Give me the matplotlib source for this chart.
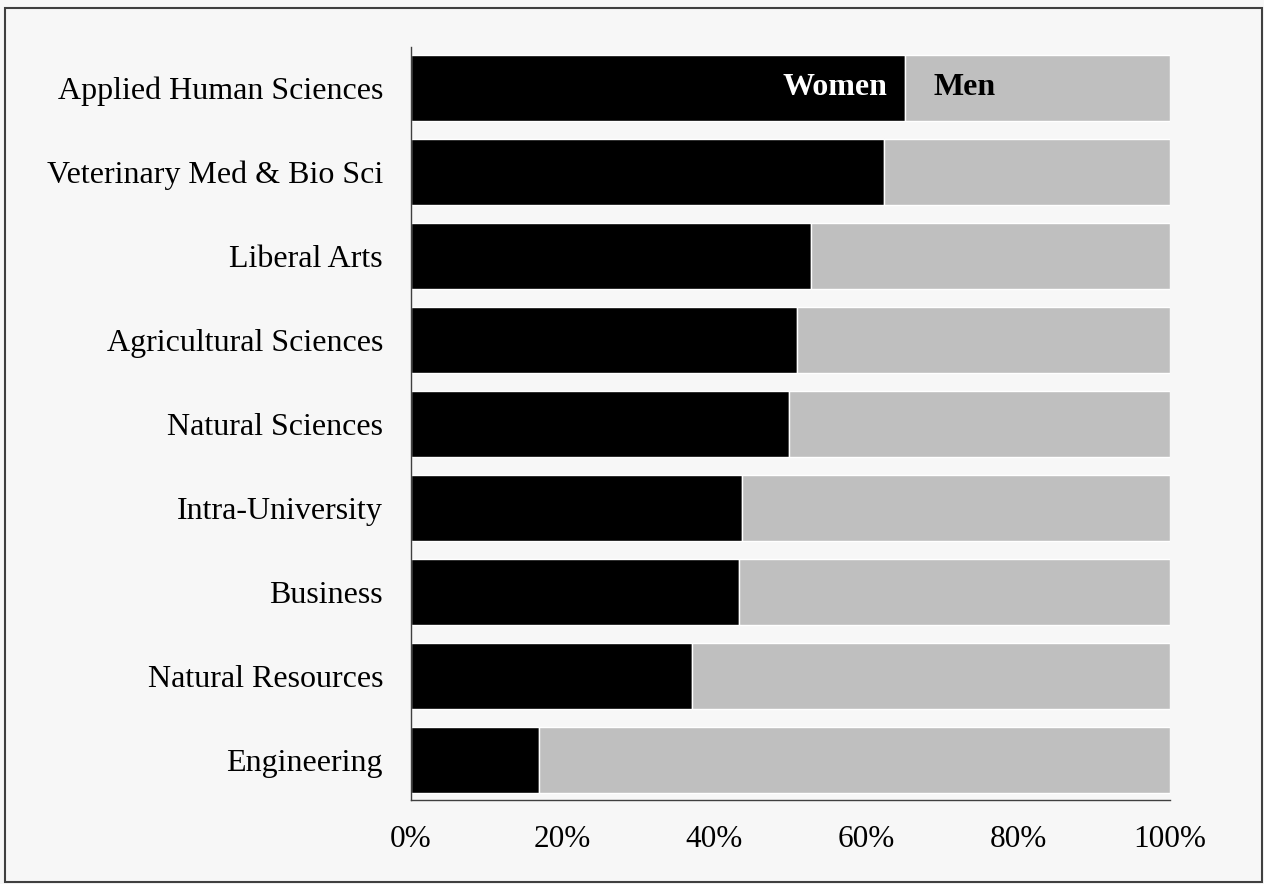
import matplotlib.pyplot as plt
from matplotlib.patches import Rectangle
from matplotlib.ticker import PercentFormatter

colleges = ["Engineering", "Natural Resources", "Business", "Intra-University",
            "Natural Sciences", "Agricultural Sciences", "Liberal Arts",
            "Veterinary Med & Bio Sci", "Applied Human Sciences"]
women = [16.9, 37.0, 43.2, 43.6, 49.8, 50.9, 52.7, 62.3, 65.1]
men = [100 - w for w in women]

plt.rcParams["font.family"] = ["Liberation Serif", "DejaVu Serif"]
bg = "#f7f7f7"

fig = plt.figure(figsize=(12.64, 8.84), dpi=100, facecolor=bg)
ax = fig.add_axes([0.325, 0.095, 0.6006, 0.852], facecolor=bg)

ax.barh(colleges, women, height=0.79, color="black", edgecolor="white", linewidth=1)
ax.barh(colleges, men, left=women, height=0.79, color="#bfbfbf",
        edgecolor="white", linewidth=1)

top = len(colleges) - 1
ax.text(women[top] - 2.3, top, "Women", color="white", fontsize=23,
        fontweight="bold", ha="right", va="center")
ax.text(women[top] + 3.8, top, "Men", color="black", fontsize=23,
        fontweight="bold", ha="left", va="center")

ax.set_xlim(0, 100)
ax.set_ylim(-0.48, len(colleges) - 0.51)
ax.set_xticks([0, 20, 40, 60, 80, 100])
ax.xaxis.set_major_formatter(PercentFormatter(decimals=0))
ax.tick_params(axis="y", length=0, labelsize=23, pad=20)
ax.tick_params(axis="x", length=0, labelsize=22.5, pad=18)

for s in ["top", "right"]:
    ax.spines[s].set_visible(False)
for s in ["left", "bottom"]:
    ax.spines[s].set_color("#404040")
    ax.spines[s].set_linewidth(1)

# outer frame
fig.patches.append(Rectangle((5 / 1264, 2 / 884), 1257 / 1264, 874 / 884,
                             transform=fig.transFigure, fill=False,
                             edgecolor="#404040", linewidth=1.5))

fig.savefig("out.png", dpi=100, facecolor=bg)
